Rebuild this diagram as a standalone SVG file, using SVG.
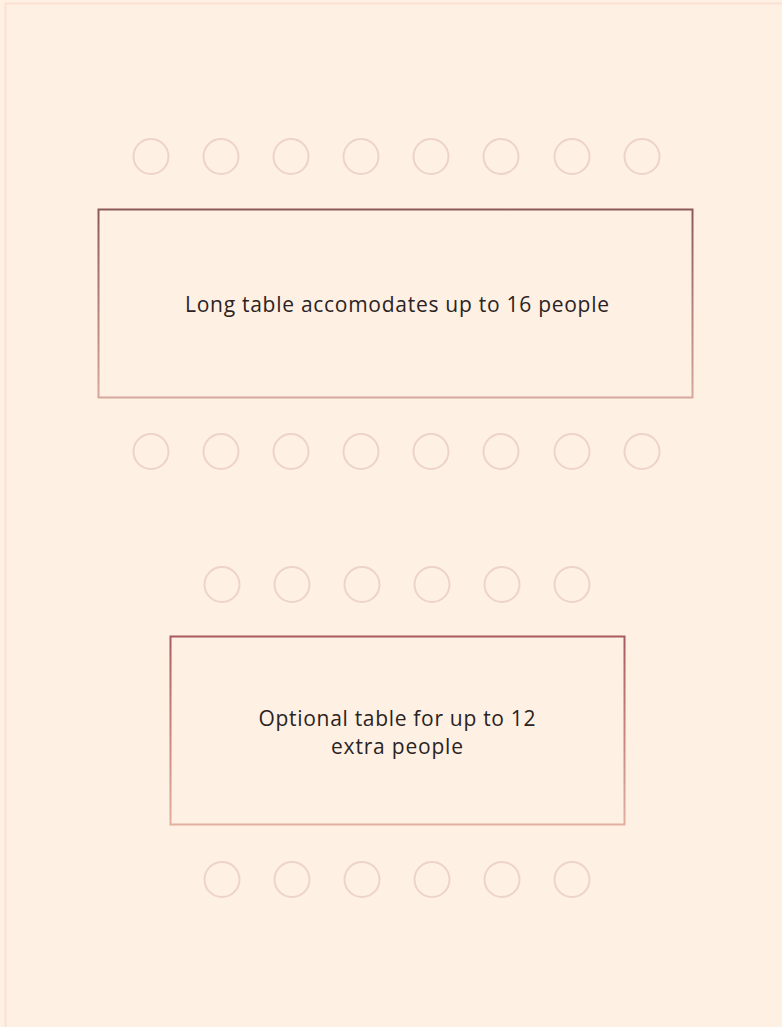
<svg xmlns="http://www.w3.org/2000/svg" width="782" height="1027" viewBox="0 0 782 1027">
<defs>
<linearGradient id="tg" x1="0" y1="0" x2="0" y2="1">
<stop offset="0" stop-color="#8E5A58"/>
<stop offset="1" stop-color="#D6A79C"/>
</linearGradient>
<linearGradient id="tg2" x1="0" y1="0" x2="0" y2="1">
<stop offset="0" stop-color="#A85A5E"/>
<stop offset="1" stop-color="#E2AE9E"/>
</linearGradient>
<style>
.seat{fill:none;stroke:#EDD3C8;stroke-width:2}
.lbl{font-family:"Open Sans","Liberation Sans",sans-serif;font-size:21px;fill:#2A2322;text-anchor:middle}
</style>
</defs>
<rect x="0" y="0" width="782" height="1027" fill="#FFF0E4"/>
<rect x="5.5" y="3.5" width="800" height="1040" fill="none" stroke="#FCE0D4" stroke-width="2"/>
<g id="long-table">
<rect x="98.5" y="209.5" width="594" height="188" fill="none" stroke="url(#tg)" stroke-width="2"/>
<text class="lbl" x="397" y="312" textLength="424" lengthAdjust="spacing">Long table accomodates up to 16 people</text>
</g>
<g id="long-table-seats">
<circle class="seat" cx="151" cy="156.5" r="17.5"/>
<circle class="seat" cx="221" cy="156.5" r="17.5"/>
<circle class="seat" cx="291" cy="156.5" r="17.5"/>
<circle class="seat" cx="361" cy="156.5" r="17.5"/>
<circle class="seat" cx="431" cy="156.5" r="17.5"/>
<circle class="seat" cx="501" cy="156.5" r="17.5"/>
<circle class="seat" cx="572" cy="156.5" r="17.5"/>
<circle class="seat" cx="642" cy="156.5" r="17.5"/>
<circle class="seat" cx="151" cy="451.5" r="17.5"/>
<circle class="seat" cx="221" cy="451.5" r="17.5"/>
<circle class="seat" cx="291" cy="451.5" r="17.5"/>
<circle class="seat" cx="361" cy="451.5" r="17.5"/>
<circle class="seat" cx="431" cy="451.5" r="17.5"/>
<circle class="seat" cx="501" cy="451.5" r="17.5"/>
<circle class="seat" cx="572" cy="451.5" r="17.5"/>
<circle class="seat" cx="642" cy="451.5" r="17.5"/>
</g>
<g id="optional-table">
<rect x="170.5" y="636.5" width="454" height="188" fill="none" stroke="url(#tg2)" stroke-width="2"/>
<text class="lbl" x="397" y="726" textLength="277" lengthAdjust="spacing">Optional table for up to 12</text>
<text class="lbl" x="397" y="754" textLength="132" lengthAdjust="spacing">extra people</text>
</g>
<g id="optional-table-seats">
<circle class="seat" cx="222" cy="584.5" r="17.5"/>
<circle class="seat" cx="292" cy="584.5" r="17.5"/>
<circle class="seat" cx="362" cy="584.5" r="17.5"/>
<circle class="seat" cx="432" cy="584.5" r="17.5"/>
<circle class="seat" cx="502" cy="584.5" r="17.5"/>
<circle class="seat" cx="572" cy="584.5" r="17.5"/>
<circle class="seat" cx="222" cy="879.5" r="17.5"/>
<circle class="seat" cx="292" cy="879.5" r="17.5"/>
<circle class="seat" cx="362" cy="879.5" r="17.5"/>
<circle class="seat" cx="432" cy="879.5" r="17.5"/>
<circle class="seat" cx="502" cy="879.5" r="17.5"/>
<circle class="seat" cx="572" cy="879.5" r="17.5"/>
</g>
<g id="connectors"></g>
</svg>
